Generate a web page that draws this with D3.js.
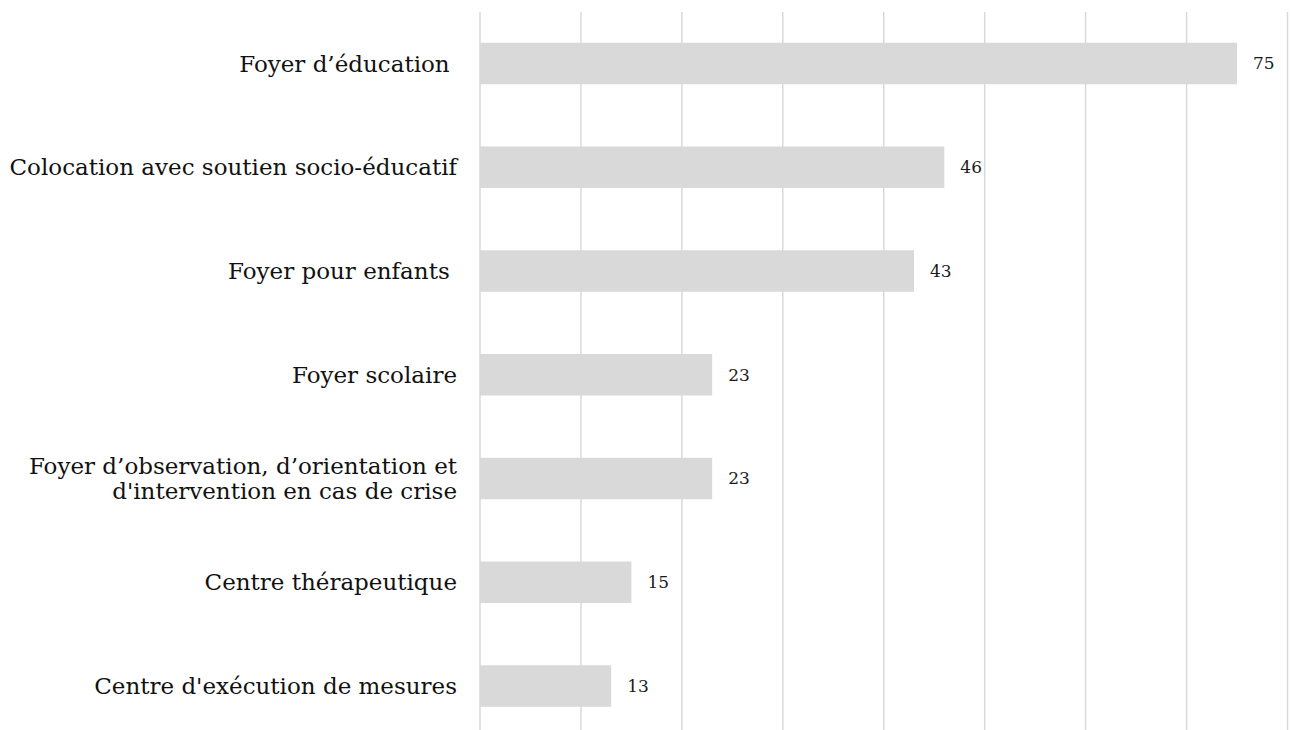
<!DOCTYPE html>
<html>
<head>
<meta charset="utf-8">
<script src="https://cdn.jsdelivr.net/npm/d3@7"></script>
<style>
  body { margin: 0; background: #fff; }
  svg { display: block; }
  text { font-family: "DejaVu Serif", Georgia, serif; }
</style>
</head>
<body>
<div id="chart"></div>
<script>
// chart size
const width = 1290;
const height = 730;
const margin = {left: 480, right: 2, top: 12, bottom: 0};

// data
const categories = [
  "Foyer d’éducation ",
  "Colocation avec soutien socio-éducatif",
  "Foyer pour enfants ",
  "Foyer scolaire",
  "Foyer d’observation, d’orientation et\nd'intervention en cas de crise",
  "Centre thérapeutique",
  "Centre d'exécution de mesures"
];
const values = [75, 46, 43, 23, 23, 15, 13];
const ticks = [0, 10, 20, 30, 40, 50, 60, 70, 80];

const data = categories.map((c, i) => ({name: c, value: values[i]}));

const svg = d3.select("#chart")
  .append("svg")
  .attr("width", width)
  .attr("height", height);

// x scale, 0 to 80
let xScale = d3.scaleLinear()
  .domain([0, 80])
  .range([margin.left, width - margin.right - 0.5]);

// y band scale, one band per category
let yScale = d3.scaleBand()
  .domain(d3.range(data.length))
  .range([11.6, 737.9])
  .paddingInner(0.6)
  .paddingOuter(0.3);

// vertical gridlines
svg.append("g")
  .selectAll("line")
  .data(ticks)
  .enter()
  .append("line")
    .attr("x1", d => xScale(d))
    .attr("x2", d => xScale(d))
    .attr("y1", margin.top)
    .attr("y2", height)
    .attr("stroke", "#d9d9d9")
    .attr("stroke-width", 1.5);

// bars
svg.selectAll(".bar")
  .data(data)
  .enter()
  .append("rect")
    .attr("class", "bar")
    .attr("x", xScale(0))
    .attr("y", (d, i) => yScale(i))
    .attr("width", d => xScale(d.value) - xScale(0))
    .attr("height", yScale.bandwidth())
    .attr("fill", "#d9d9d9");

// value labels
svg.selectAll(".val")
  .data(data)
  .enter()
  .append("text")
    .attr("class", "val")
    .attr("x", d => xScale(d.value) + 16)
    .attr("y", (d, i) => yScale(i) + yScale.bandwidth() / 2)
    .attr("dy", "0.35em")
    .attr("font-size", "17px")
    .attr("fill", "#1a1a1a")
    .text(d => d.value);

// category labels, right aligned, can have two lines
const labels = svg.selectAll(".cat")
  .data(data)
  .enter()
  .append("text")
    .attr("class", "cat")
    .attr("text-anchor", "end")
    .attr("font-size", "23px")
    .attr("fill", "#111")
    .style("white-space", "pre")
    .attr("transform", (d, i) => `translate(457, ${yScale(i) + yScale.bandwidth() / 2})`);

labels.each(function(d) {
  const lines = d.name.split("\n");
  const lh = 25;
  const start = -(lines.length - 1) * lh / 2;
  d3.select(this).selectAll("tspan")
    .data(lines)
    .enter()
    .append("tspan")
      .attr("x", 0)
      .attr("y", (l, j) => start + j * lh)
      .attr("dy", "0.35em")
      .text(l => l);
});
</script>
</body>
</html>
